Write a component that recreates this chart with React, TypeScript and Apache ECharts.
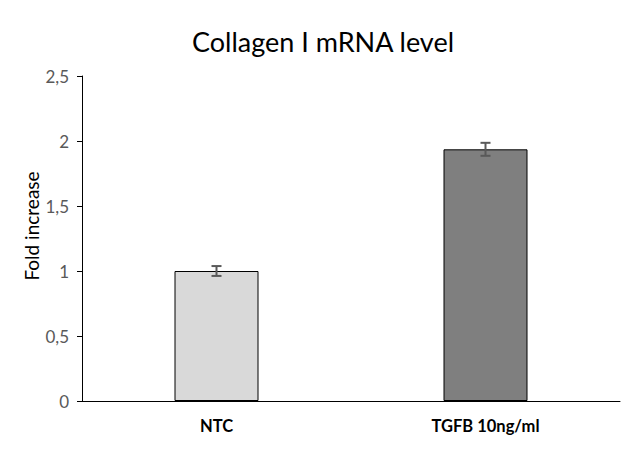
import React, { useEffect, useRef } from "react";
import * as echarts from "echarts";

const categories = ["NTC", "TGFB 10ng/ml"];
const values = [1.0, 1.936];
const errors = [0.038, 0.05];
const barColors = ["#d9d9d9", "#7f7f7f"];
const yTicks = [0, 0.5, 1, 1.5, 2, 2.5];
const yAxisTitle = "Fold increase";

const FONT = "Lato";

export default function App() {
  const ref = useRef<HTMLDivElement>(null);
  useEffect(() => {
    const chart = echarts.init(ref.current!, null, { renderer: "svg" });
    const errData = values.map((v, i) => [i, v - errors[i], v + errors[i]]);
    chart.setOption({
      animation: false,
      backgroundColor: "#ffffff",
      title: {
        text: "Collagen I mRNA level",
        left: 318,
        textAlign: "center",
        top: 23,
        textStyle: { fontFamily: FONT, fontSize: 27, fontWeight: "normal", color: "#000" },
      },
      graphic: [
        {
          type: "text",
          x: 31,
          y: 226,
          rotation: Math.PI / 2,
          style: {
            text: yAxisTitle,
            fontFamily: FONT,
            fontSize: 19,
            fill: "#000",
            align: "center",
            verticalAlign: "middle",
          },
        },
      ],
      grid: { left: 82, right: 20, top: 76, bottom: 48, containLabel: false },
      xAxis: {
        type: "category",
        data: categories,
        axisLine: { lineStyle: { color: "#000", width: 1 } },
        axisTick: { show: false },
        axisLabel: {
          margin: 16,
          fontFamily: FONT,
          fontSize: 16.5,
          fontWeight: "bold",
          color: "#000",
        },
      },
      yAxis: {
        type: "value",
        min: 0,
        max: yTicks[yTicks.length - 1],
        interval: 0.5,
        axisLine: { show: true, lineStyle: { color: "#000", width: 1 } },
        axisTick: { show: true, length: 5, lineStyle: { color: "#000" } },
        splitLine: { show: false },
        axisLabel: {
          margin: 13,
          fontFamily: FONT,
          fontSize: 17,
          color: "#595959",
          formatter: (v: number) => String(v).replace(".", ","),
        },
      },
      series: [
        {
          type: "bar",
          barWidth: 84,
          data: values.map((v, i) => ({
            value: v,
            itemStyle: { color: barColors[i], borderColor: "#000", borderWidth: 1 },
          })),
        },
        {
          type: "custom",
          data: errData,
          z: 10,
          renderItem: (params: any, api: any) => {
            const x = api.value(0);
            const lo = api.coord([x, api.value(1)]);
            const hi = api.coord([x, api.value(2)]);
            const hw = 5;
            const style = { stroke: "#595959", lineWidth: 2 };
            return {
              type: "group",
              children: [
                { type: "line", shape: { x1: lo[0], y1: lo[1], x2: hi[0], y2: hi[1] }, style },
                { type: "line", shape: { x1: lo[0] - hw, y1: lo[1], x2: lo[0] + hw, y2: lo[1] }, style },
                { type: "line", shape: { x1: hi[0] - hw, y1: hi[1], x2: hi[0] + hw, y2: hi[1] }, style },
              ],
            };
          },
        },
      ],
    });
    return () => chart.dispose();
  }, []);
  return (
    <div
      ref={ref}
      style={{ position: "absolute", left: 0, top: 0, width: 640, height: 449 }}
    />
  );
}
